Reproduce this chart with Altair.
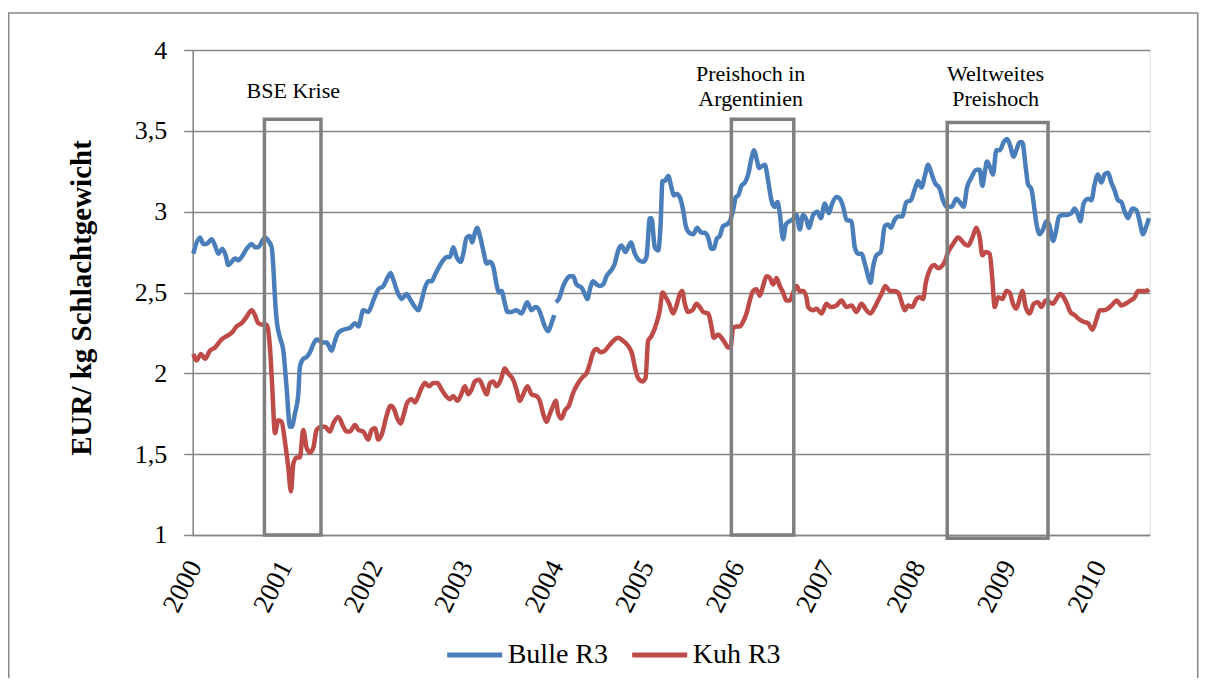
import altair as alt
import pandas as pd

# ---------------- data ----------------
bulle_years = [
    2000.007, 2000.016, 2000.081, 2000.117, 2000.154, 2000.21, 2000.247, 2000.284, 2000.327, 2000.364,
    2000.394, 2000.43, 2000.467, 2000.504, 2000.541, 2000.596, 2000.652, 2000.688, 2000.725, 2000.78,
    2000.799, 2000.836, 2000.873, 2000.891, 2000.909, 2000.928, 2000.965, 2001.002, 2001.038, 2001.075,
    2001.093, 2001.13, 2001.167, 2001.185, 2001.222, 2001.259, 2001.296, 2001.333, 2001.37, 2001.406,
    2001.443, 2001.48, 2001.536, 2001.572, 2001.609, 2001.664, 2001.738, 2001.794, 2001.831, 2001.886,
    2001.941, 2001.996, 2002.052, 2002.107, 2002.162, 2002.188, 2002.217, 2002.273, 2002.309, 2002.365,
    2002.401, 2002.457, 2002.493, 2002.53, 2002.567, 2002.604, 2002.641, 2002.678, 2002.715, 2002.77,
    2002.807, 2002.844, 2002.88, 2002.917, 2002.961, 2002.991, 2003.028, 2003.064, 2003.09, 2003.12,
    2003.146, 2003.175, 2003.212, 2003.249, 2003.286, 2003.322, 2003.362, 2003.384, 2003.414, 2003.443,
    2003.48, 2003.524, 2003.579, 2003.635, 2003.697, 2003.745, 2003.789, 2003.819, 2003.856, 2003.892,
    2003.929, 2003.966, 2003.996,
    2004.014, 2004.047, 2004.095, 2004.132, 2004.169, 2004.206, 2004.242, 2004.298, 2004.335, 2004.364,
    2004.39, 2004.427, 2004.464, 2004.501, 2004.537, 2004.574, 2004.629, 2004.666, 2004.703, 2004.74,
    2004.784, 2004.813, 2004.843, 2004.887, 2004.931, 2004.979, 2005.016, 2005.053, 2005.071, 2005.108,
    2005.145, 2005.171, 2005.193, 2005.219, 2005.256, 2005.292, 2005.318, 2005.347, 2005.384, 2005.421,
    2005.451, 2005.488, 2005.532, 2005.576, 2005.624, 2005.661, 2005.698, 2005.734, 2005.76, 2005.79,
    2005.826, 2005.863, 2005.9, 2005.937, 2005.974, 2006.003, 2006.029, 2006.066, 2006.103, 2006.14,
    2006.176, 2006.206, 2006.232, 2006.261, 2006.287, 2006.324, 2006.361, 2006.397, 2006.434, 2006.464,
    2006.489, 2006.526, 2006.556, 2006.593, 2006.629, 2006.674, 2006.71, 2006.747, 2006.784, 2006.81,
    2006.858, 2006.906, 2006.943, 2006.987, 2007.031, 2007.068, 2007.116, 2007.153, 2007.19, 2007.226,
    2007.282, 2007.318, 2007.355, 2007.392, 2007.429, 2007.466, 2007.492, 2007.521, 2007.558, 2007.606,
    2007.65, 2007.687, 2007.716, 2007.76, 2007.797, 2007.842, 2007.889, 2007.937, 2007.982, 2008.018,
    2008.055, 2008.092, 2008.129, 2008.158, 2008.202, 2008.258, 2008.294, 2008.331, 2008.387, 2008.442,
    2008.479, 2008.522, 2008.559, 2008.607, 2008.662, 2008.699, 2008.728, 2008.754, 2008.78, 2008.817,
    2008.846, 2008.883, 2008.92, 2008.964, 2009.001, 2009.03, 2009.075, 2009.104, 2009.141, 2009.17,
    2009.207, 2009.233, 2009.27, 2009.296, 2009.325, 2009.362, 2009.399, 2009.436, 2009.472, 2009.509,
    2009.539, 2009.576, 2009.62, 2009.664, 2009.712, 2009.749, 2009.786, 2009.811, 2009.848, 2009.896,
    2009.933, 2009.97, 2010.007, 2010.044, 2010.08, 2010.117, 2010.154, 2010.191, 2010.228, 2010.264,
    2010.301, 2010.338, 2010.386, 2010.43, 2010.467, 2010.504, 2010.541, 2010.57,
]
bulle_values = [
    2.74, 2.76, 2.84, 2.80, 2.80, 2.83, 2.79, 2.74, 2.77, 2.73,
    2.67, 2.69, 2.71, 2.70, 2.72, 2.77, 2.80, 2.78, 2.78, 2.83,
    2.84, 2.82, 2.78, 2.66, 2.47, 2.33, 2.22, 2.14, 1.91, 1.67,
    1.67, 1.75, 1.87, 2.04, 2.09, 2.10, 2.13, 2.18, 2.21, 2.20,
    2.19, 2.19, 2.14, 2.20, 2.25, 2.27, 2.28, 2.31, 2.29, 2.39,
    2.38, 2.45, 2.52, 2.54, 2.60, 2.62, 2.58, 2.49, 2.46, 2.49,
    2.46, 2.41, 2.39, 2.45, 2.53, 2.57, 2.57, 2.61, 2.65, 2.70,
    2.72, 2.72, 2.78, 2.72, 2.69, 2.74, 2.84, 2.85, 2.81, 2.87,
    2.90, 2.85, 2.76, 2.68, 2.69, 2.66, 2.54, 2.50, 2.51, 2.45,
    2.38, 2.38, 2.39, 2.37, 2.44, 2.39, 2.41, 2.40, 2.35, 2.29,
    2.26, 2.31, 2.36,
    2.44, 2.46, 2.54, 2.58, 2.60, 2.60, 2.55, 2.53, 2.49, 2.46,
    2.52, 2.57, 2.55, 2.54, 2.55, 2.60, 2.64, 2.68, 2.76, 2.79,
    2.75, 2.78, 2.81, 2.74, 2.70, 2.69, 2.72, 2.96, 2.96, 2.78,
    2.76, 2.91, 3.19, 3.19, 3.22, 3.15, 3.10, 3.11, 3.09, 3.01,
    2.91, 2.87, 2.86, 2.90, 2.87, 2.87, 2.84, 2.77, 2.77, 2.83,
    2.85, 2.91, 2.92, 2.94, 3.01, 3.09, 3.10, 3.16, 3.18, 3.23,
    3.33, 3.38, 3.33, 3.27, 3.28, 3.29, 3.19, 3.07, 3.03, 3.06,
    2.99, 2.83, 2.92, 2.94, 2.95, 2.98, 2.89, 2.98, 2.95, 2.90,
    2.98, 3.00, 2.96, 3.05, 2.99, 3.05, 3.09, 3.08, 3.03, 2.95,
    2.94, 2.78, 2.74, 2.74, 2.68, 2.60, 2.56, 2.66, 2.73, 2.75,
    2.91, 2.92, 2.90, 2.95, 2.97, 2.97, 3.06, 3.07, 3.14, 3.19,
    3.15, 3.22, 3.29, 3.25, 3.18, 3.14, 3.07, 3.03, 3.03, 3.08,
    3.06, 3.03, 3.15, 3.21, 3.26, 3.26, 3.16, 3.24, 3.31, 3.27,
    3.23, 3.38, 3.38, 3.43, 3.45, 3.42, 3.34, 3.38, 3.43, 3.43,
    3.28, 3.17, 3.14, 3.05, 2.93, 2.86, 2.89, 2.94, 2.91, 2.82,
    2.87, 2.97, 2.98, 2.98, 2.99, 3.02, 2.98, 2.94, 3.05, 3.08,
    3.07, 3.17, 3.23, 3.18, 3.23, 3.24, 3.18, 3.13, 3.07, 3.06,
    3.00, 2.96, 3.02, 3.01, 2.94, 2.86, 2.91, 2.96,
]
bulle_gap_after = 2004.005  # one missing observation at the start of 2004

kuh_years = [
    2000.007, 2000.043, 2000.091, 2000.136, 2000.191, 2000.247, 2000.32, 2000.375, 2000.43, 2000.486,
    2000.541, 2000.596, 2000.652, 2000.688, 2000.725, 2000.78, 2000.817, 2000.854, 2000.88, 2000.909,
    2000.946, 2000.983, 2001.019, 2001.056, 2001.086, 2001.112, 2001.149, 2001.185, 2001.222, 2001.259,
    2001.296, 2001.333, 2001.37, 2001.425, 2001.462, 2001.517, 2001.554, 2001.609, 2001.665, 2001.702,
    2001.738, 2001.794, 2001.831, 2001.886, 2001.941, 2001.978, 2002.015, 2002.052, 2002.088, 2002.144,
    2002.188, 2002.225, 2002.262, 2002.298, 2002.335, 2002.372, 2002.42, 2002.457, 2002.494, 2002.53,
    2002.567, 2002.615, 2002.659, 2002.704, 2002.751, 2002.799, 2002.844, 2002.88, 2002.924, 2002.961,
    2003.009, 2003.046, 2003.083, 2003.12, 2003.168, 2003.212, 2003.249, 2003.286, 2003.322, 2003.359,
    2003.405, 2003.45, 2003.487, 2003.543, 2003.579, 2003.616, 2003.653, 2003.701, 2003.745, 2003.8,
    2003.837, 2003.874, 2003.911, 2003.948, 2003.985, 2004.014, 2004.04, 2004.077, 2004.114, 2004.158,
    2004.206, 2004.261, 2004.316, 2004.353, 2004.39, 2004.427, 2004.464, 2004.511, 2004.556, 2004.6,
    2004.648, 2004.703, 2004.758, 2004.813, 2004.857, 2004.887, 2004.924, 2004.968, 2005.005, 2005.034,
    2005.071, 2005.127, 2005.163, 2005.193, 2005.23, 2005.267, 2005.311, 2005.348, 2005.384, 2005.41,
    2005.44, 2005.477, 2005.524, 2005.569, 2005.605, 2005.642, 2005.698, 2005.734, 2005.76, 2005.808,
    2005.845, 2005.882, 2005.919, 2005.944, 2005.974, 2006.01, 2006.047, 2006.084, 2006.121, 2006.158,
    2006.195, 2006.232, 2006.268, 2006.305, 2006.342, 2006.379, 2006.416, 2006.453, 2006.489, 2006.526,
    2006.563, 2006.6, 2006.644, 2006.674, 2006.71, 2006.747, 2006.784, 2006.803, 2006.858, 2006.895,
    2006.95, 2007.005, 2007.053, 2007.116, 2007.171, 2007.226, 2007.282, 2007.337, 2007.392, 2007.447,
    2007.492, 2007.539, 2007.576, 2007.62, 2007.657, 2007.705, 2007.753, 2007.797, 2007.842, 2007.871,
    2007.908, 2007.952, 2008.0, 2008.037, 2008.074, 2008.103, 2008.147, 2008.195, 2008.239, 2008.276,
    2008.313, 2008.35, 2008.405, 2008.46, 2008.533, 2008.57, 2008.618, 2008.662, 2008.699, 2008.728,
    2008.765, 2008.81, 2008.839, 2008.865, 2008.902, 2008.949, 2008.994, 2009.03, 2009.067, 2009.104,
    2009.141, 2009.17, 2009.207, 2009.252, 2009.296, 2009.343, 2009.38, 2009.428, 2009.472, 2009.509,
    2009.546, 2009.59, 2009.627, 2009.664, 2009.7, 2009.749, 2009.786, 2009.841, 2009.896, 2009.944,
    2009.988, 2010.025, 2010.069, 2010.117, 2010.172, 2010.216, 2010.264, 2010.312, 2010.364, 2010.412,
    2010.449, 2010.497, 2010.541, 2010.57,
]
kuh_values = [
    2.12, 2.08, 2.12, 2.09, 2.14, 2.16, 2.21, 2.23, 2.25, 2.29,
    2.31, 2.35, 2.39, 2.36, 2.31, 2.30, 2.30, 2.16, 1.91, 1.63,
    1.71, 1.70, 1.58, 1.42, 1.27, 1.44, 1.48, 1.48, 1.65, 1.54,
    1.51, 1.54, 1.65, 1.67, 1.67, 1.64, 1.69, 1.73, 1.67, 1.64,
    1.64, 1.68, 1.65, 1.64, 1.59, 1.65, 1.66, 1.59, 1.62, 1.74,
    1.80, 1.78, 1.72, 1.69, 1.75, 1.82, 1.84, 1.82, 1.86, 1.91,
    1.94, 1.92, 1.94, 1.94, 1.90, 1.86, 1.84, 1.86, 1.83, 1.86,
    1.92, 1.87, 1.90, 1.95, 1.96, 1.91, 1.87, 1.94, 1.95, 1.92,
    1.96, 2.03, 2.00, 1.96, 1.90, 1.83, 1.87, 1.92, 1.87, 1.86,
    1.83, 1.75, 1.70, 1.75, 1.80, 1.83, 1.75, 1.72, 1.77, 1.80,
    1.88, 1.94, 1.98, 2.00, 2.06, 2.13, 2.15, 2.13, 2.14, 2.17,
    2.20, 2.22, 2.20, 2.17, 2.12, 2.04, 1.97, 1.95, 1.97, 2.20,
    2.23, 2.31, 2.39, 2.50, 2.47, 2.43, 2.37, 2.42, 2.49, 2.51,
    2.43, 2.38, 2.39, 2.43, 2.41, 2.38, 2.37, 2.29, 2.22, 2.24,
    2.22, 2.19, 2.16, 2.16, 2.28, 2.29, 2.29, 2.32, 2.37, 2.45,
    2.51, 2.52, 2.48, 2.54, 2.60, 2.59, 2.55, 2.59, 2.54, 2.50,
    2.45, 2.45, 2.51, 2.54, 2.51, 2.51, 2.47, 2.41, 2.39, 2.40,
    2.37, 2.43, 2.41, 2.42, 2.45, 2.41, 2.42, 2.38, 2.43, 2.39,
    2.37, 2.41, 2.45, 2.50, 2.54, 2.51, 2.51, 2.50, 2.43, 2.39,
    2.42, 2.41, 2.46, 2.47, 2.46, 2.56, 2.64, 2.67, 2.65, 2.66,
    2.69, 2.75, 2.80, 2.84, 2.80, 2.79, 2.84, 2.90, 2.84, 2.73,
    2.75, 2.74, 2.58, 2.41, 2.47, 2.46, 2.51, 2.50, 2.43, 2.40,
    2.46, 2.51, 2.41, 2.37, 2.43, 2.44, 2.41, 2.45, 2.44, 2.43,
    2.46, 2.49, 2.47, 2.43, 2.38, 2.36, 2.34, 2.32, 2.31, 2.27,
    2.33, 2.39, 2.39, 2.40, 2.43, 2.45, 2.42, 2.43, 2.45, 2.47,
    2.51, 2.51, 2.51, 2.52,
]

series_names = ["Bulle R3", "Kuh R3"]
series_colors = ["#4a7ebb", "#be4b48"]

year_ticks = list(range(2000, 2011))
value_ticks = [1, 1.5, 2, 2.5, 3, 3.5, 4]

# highlighted periods (boxes) and their captions
box_start = [2000.793, 2005.954, 2008.340]
box_end = [2001.418, 2006.644, 2009.454]
box_top = [3.572, 3.572, 3.551]
box_bottom = [1.0, 1.0, 0.98]

ann_text = ["BSE Krise", "Preishoch in\nArgentinien", "Weltweites\nPreishoch"]
ann_x = [2001.112, 2006.167, 2008.874]
ann_y = [3.703, 3.808, 3.808]

# ---------------- tables ----------------
df_b = pd.DataFrame({"year": bulle_years, "value": bulle_values})
df_b["series"] = series_names[0]
df_b["seg"] = ["b1" if y < bulle_gap_after else "b2" for y in bulle_years]
df_k = pd.DataFrame({"year": kuh_years, "value": kuh_values})
df_k["series"] = series_names[1]
df_k["seg"] = "k"
lines_df = pd.concat([df_b, df_k], ignore_index=True)

boxes_df = pd.DataFrame({"x1": box_start, "x2": box_end, "y1": box_bottom, "y2": box_top})
ann_df = pd.DataFrame({"label": ann_text, "x": ann_x, "y": ann_y})

GRID = "#868686"
SERIF = "Liberation Serif"

x_scale = alt.Scale(domain=[2000, 2010.578], nice=False, zero=False)
y_scale = alt.Scale(domain=[1, 4], nice=False, zero=False)

lines = alt.Chart(lines_df).mark_line(strokeWidth=4.5, interpolate="monotone", strokeJoin="round").encode(
    x=alt.X("year:Q", scale=x_scale, axis=alt.Axis(
        values=year_ticks, format="d", labelAngle=-63, labelAlign="right", labelBaseline="middle",
        labelPadding=27, labelOffset=2, ticks=False, grid=False, domainColor=GRID, domainWidth=1.5,
        labelFontSize=27, labelFont=SERIF, labelColor="black", title=None, labelFlush=False,
        labelOverlap=False)),
    y=alt.Y("value:Q", scale=y_scale, axis=alt.Axis(
        values=value_ticks, labelExpr="replace(format(datum.value, '~g'), '.', ',')",
        grid=True, gridColor=GRID, gridWidth=1.5, domainColor=GRID, domainWidth=1.5,
        tickColor=GRID, tickSize=9, tickWidth=1.5, labelPadding=17,
        labelFontSize=26, labelFont=SERIF, labelColor="black",
        title="EUR/ kg Schlachtgewicht", titleFont=SERIF, titleFontSize=29, titleFontWeight="bold",
        titleColor="black", titleAngle=270, titleAlign="center", titleBaseline="alphabetic",
        titleX=-102, titleY=247.5)),
    color=alt.Color("series:N", scale=alt.Scale(domain=series_names, range=series_colors),
                    legend=alt.Legend(orient="none", legendX=252, legendY=575, direction="horizontal",
                                      title=None, symbolType="stroke", symbolSize=3025,
                                      symbolStrokeWidth=5, labelFontSize=28, labelFont=SERIF,
                                      labelColor="black", labelOffset=3, columnPadding=13, padding=0)),
    detail="seg:N",
)

boxes = alt.Chart(boxes_df).mark_rect(fillOpacity=0, stroke="#7f7f7f", strokeWidth=3.5).encode(
    x=alt.X("x1:Q", scale=x_scale), x2="x2:Q",
    y=alt.Y("y1:Q", scale=y_scale), y2="y2:Q",
)

captions = alt.Chart(ann_df).mark_text(font=SERIF, fontSize=22, lineBreak="\n", lineHeight=25,
                                       align="center", baseline="alphabetic", color="black").encode(
    x=alt.X("x:Q", scale=x_scale), y=alt.Y("y:Q", scale=y_scale), text="label:N",
)

frame = alt.Chart(alt.Data(values=[{}])).mark_rect(fillOpacity=0, stroke=GRID, strokeWidth=1.5).encode(
    x=alt.value(-184), x2=alt.value(1005), y=alt.value(-37), y2=alt.value(700),
)

chart = alt.layer(frame, lines, boxes, captions).properties(
    width=957, height=485,
    autosize=alt.AutoSizeParams(type="none"),
    padding={"left": 184.7, "top": 42, "right": 49, "bottom": 143},
).configure_view(stroke=None).configure(
    background="white", font=SERIF
).configure_axis(labelFont=SERIF, titleFont=SERIF).configure_legend(labelFont=SERIF)

chart.save("out.html", embed_options={"renderer": "svg", "actions": False})
